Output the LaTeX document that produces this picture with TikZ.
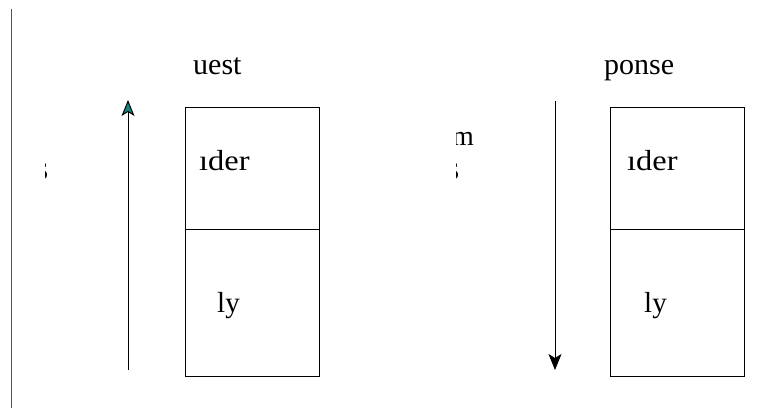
\documentclass[tikz,border=0pt]{standalone}
\usepackage{fontspec}
\setmainfont{Liberation Serif}
\usetikzlibrary{arrows.meta}
\definecolor{arrowteal}{HTML}{17857F}
\definecolor{edgegray}{HTML}{555555}
\begin{document}
\begin{tikzpicture}[x=1pt,y=-1pt,
  part/.style={draw=black, line width=0.8pt, minimum width=134pt, inner sep=0pt, outer sep=0pt},
  titletxt/.style={inner sep=0pt, anchor=base west, font=\fontsize{30}{34}\selectfont},
  boxtxt/.style={inner sep=0pt, anchor=base west, font=\fontsize{29}{32}\selectfont},
  frag/.style={inner sep=0pt, anchor=base east, font=\fontsize{34}{40}\selectfont},
  conn/.style={line width=0.9pt, draw=black}]
\useasboundingbox (0,0) rectangle (769,408);
\fill[white] (0,0) rectangle (769,408);
% left border line
\coordinate (bt) at (11.5,9);
\coordinate (bb) at (11.5,408);
\draw[edgegray, line width=1pt] (bt) -- (bb);
% left box
\node[part, minimum height=122pt, anchor=north west] (lh) at (185,107) {};
\node[part, minimum height=147pt, anchor=north] (lb) at (lh.south) {};
% right box
\node[part, minimum height=122pt, anchor=north west] (rh) at (610,107) {};
\node[part, minimum height=147pt, anchor=north] (rb) at (rh.south) {};
% titles
\node[titletxt] (lt) at (193,74) {uest};
\node[titletxt] (rt) at (604,74) {ponse};
% box texts
\node[boxtxt] (lht) at (199,170) {\scalebox{1.12}[1]{ıder}};
\node[boxtxt] (rht) at (627,170) {\scalebox{1.12}[1]{ıder}};
\node[boxtxt] (lbt) at (217,312) {ly};
\node[boxtxt] (rbt) at (644,312) {ly};
% clipped fragments
\begin{scope}
  \clip (456.5,120) rectangle (480,150);
  \node[inner sep=0pt, anchor=base east, font=\fontsize{28}{32}\selectfont] (fm) at (474,145) {m};
\end{scope}
\begin{scope}
  \clip (45.5,155) rectangle (48,185);
  \node[frag] (fs1) at (48.5,179) {s};
\end{scope}
\begin{scope}
  \clip (456.5,155) rectangle (459,185);
  \node[frag] (fs2) at (459.5,179) {s};
\end{scope}
% arrows
\coordinate (ua0) at (128,370);
\coordinate (ua1) at (128,100);
\draw[conn, -{Stealth[length=16pt, width=13pt, inset=4pt, fill=arrowteal, line width=1pt]}] (ua0) -- (ua1);
\coordinate (da0) at (555,101);
\coordinate (da1) at (555,370);
\draw[conn, -{Stealth[length=16pt, width=13pt, inset=4pt]}] (da0) -- (da1);
\end{tikzpicture}
\end{document}
